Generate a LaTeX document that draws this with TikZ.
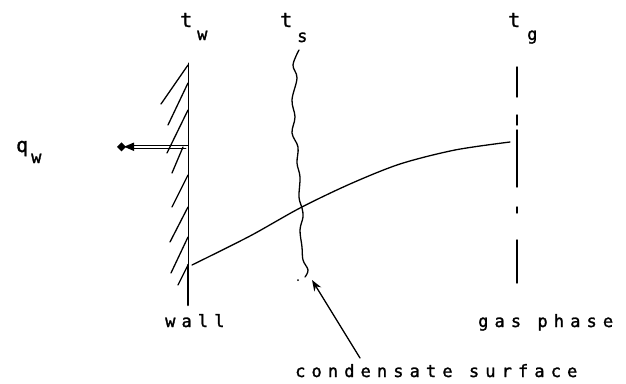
\documentclass[tikz,border=0pt]{standalone}
\usepackage{fontspec}
\newfontfamily\plotfont[LetterSpace=36,FakeBold=1.5]{DejaVu Sans Mono}
\newfontfamily\symfont[FakeBold=1.5]{DejaVu Sans Mono}
\usetikzlibrary{arrows.meta}
\begin{document}
\begin{tikzpicture}[x=1pt,y=-1pt,line cap=round,line join=round,
  lbl/.style={font={\plotfont\fontsize{17}{17}\selectfont},inner sep=0pt,anchor=base west},
  tlbl/.style={font={\symfont\fontsize{20}{20}\selectfont},inner sep=0pt,anchor=base west},
  sublbl/.style={font={\symfont\fontsize{17}{17}\selectfont},inner sep=0pt,anchor=base west},
  hatch/.style={line width=1.3pt},
  gasline/.style={line width=1.4pt},
  stroke/.style={line width=1.3pt},
  fluxline/.style={line width=0.9pt}]
\useasboundingbox (0,0) rectangle (626,383);
% labels
\node[tlbl] (tw) at (180,27) {t};
\node[sublbl] (tws) at (197,40) {w};
\node[tlbl] (ts) at (280,27) {t};
\node[sublbl] (tss) at (297,42) {s};
\node[tlbl] (tg) at (508,27) {t};
\node[sublbl] (tgs) at (527,40) {g};
\node[tlbl] (q) at (16,152) {q};
\node[sublbl] (qs) at (31,163) {w};
\node[lbl] (wall) at (165,327) {wall};
\node[lbl] (gas) at (478,327) {gas phase};
\node[lbl] (cond) at (295,377) {condensate surface};
% heat flux arrow (double line)
\coordinate (qa1) at (188,145);
\coordinate (qb1) at (132,145);
\coordinate (qa2) at (186,148.5);
\coordinate (qb2) at (132,148.5);
\draw[fluxline] (qa1) -- (qb1);
\draw[fluxline] (qa2) -- (qb2);
\fill (134,142.5) -- (124,146.75) -- (134,151) -- cycle;
\fill (117,146.75) -- (121.5,142.25) -- (126,146.75) -- (121.5,151.25) -- cycle;
% wall
\coordinate (wtop) at (188,63);
\coordinate (wmid) at (188,265);
\coordinate (wbot) at (188,305);
\draw[line width=1pt] (wtop) -- (wmid);
\draw[line width=2.6pt] (wmid) -- (wbot);
\foreach \a/\b/\c/\d in {188/65/161/104, 188/83/168/125, 188/110/167/153, 183/147/172/173,
  188/175/172/207, 188/207/170/242, 188/237/171/273, 188/265/178/285}
  \draw[hatch] (\a,\b) -- (\c,\d);
% condensate surface (wavy)
\draw[stroke] plot[smooth,tension=0.6] coordinates {(299,50) (293,65) (297,78) (292,100) (295,117) (292,133) (298,147) (297,163) (300,177) (299,197) (302,208) (303,217) (300,230) (302,247) (303,260) (308,270) (305,277)};
\fill (298,280) circle (1pt);
% gas phase dash-dot line
\foreach \a/\b in {67/97, 115/125, 130/187, 207/213, 240/283}
  \draw[gasline] (517,\a) -- (517,\b);
% temperature profile
\draw[stroke] plot[smooth,tension=0.5] coordinates {(192,265) (250,236) (300,208) (350,184) (400,164) (455,150) (510,142)};
% pointer arrow
\coordinate (ctail) at (360,358);
\coordinate (ctip) at (312,280);
\draw[stroke,-{Stealth[length=11pt,width=8pt]}] (ctail) -- (ctip);
\end{tikzpicture}
\end{document}
